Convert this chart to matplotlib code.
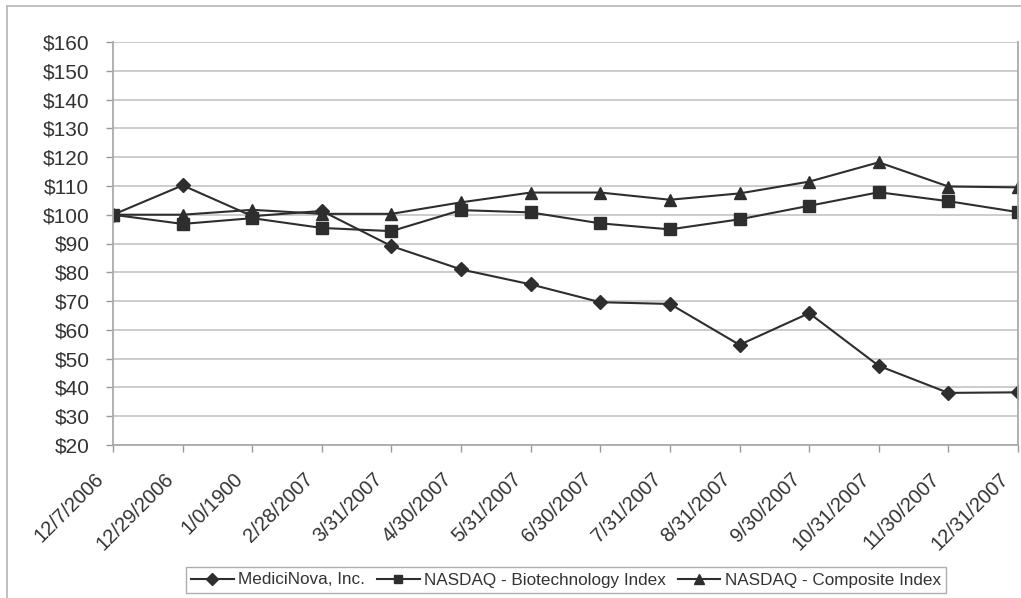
import numpy as np
import matplotlib.pyplot as plt
from matplotlib.lines import Line2D
from matplotlib.transforms import ScaledTranslation

plt.rcParams['font.family'] = ['Liberation Sans', 'DejaVu Sans']

dates = ['12/7/2006', '12/29/2006', '1/0/1900', '2/28/2007', '3/31/2007',
         '4/30/2007', '5/31/2007', '6/30/2007', '7/31/2007', '8/31/2007',
         '9/30/2007', '10/31/2007', '11/30/2007', '12/31/2007']
medicinova = [100, 110.2, 99.5, 101.3, 89.1, 81.0, 75.8, 69.6, 69.0, 54.8,
              65.8, 47.5, 38.1, 38.3]
biotech = [100, 96.8, 98.8, 95.4, 94.3, 101.6, 100.8, 97.0, 94.9, 98.4,
           103.1, 107.8, 104.7, 100.9]
composite = [100, 100.0, 101.7, 100.3, 100.3, 104.3, 107.7, 107.7, 105.2, 107.4,
             111.5, 118.2, 109.8, 109.5]
yticks = list(range(20, 161, 10))

line_col = '#2e2e2e'
grid_col = '#c8c8c8'
text_col = '#333333'

fig = plt.figure(figsize=(10.21, 5.98), dpi=100)
ax = fig.add_axes([113/1021, 1 - 445/598, (1018 - 113)/1021, (445 - 42)/598])

x = np.arange(len(dates))
ax.plot(x, medicinova, color=line_col, lw=1.5, marker='D', ms=7.5,
        label='MediciNova, Inc.')
ax.plot(x, biotech, color=line_col, lw=1.5, marker='s', ms=8,
        label='NASDAQ - Biotechnology Index')
ax.plot(x, composite, color=line_col, lw=1.5, marker='^', ms=9,
        label='NASDAQ - Composite Index')

ax.set_xlim(0, len(dates) - 1)
ax.set_ylim(20, 160)
ax.set_yticks(yticks)
ax.set_yticklabels(['$%d' % v for v in yticks], fontsize=15, color=text_col)
ax.set_xticks(x)
ax.set_xticklabels(dates, rotation=45, ha='right', va='center',
                   rotation_mode='anchor', fontsize=14.5, color=text_col)
ax.tick_params(axis='both', length=5, width=1, color='#999999')
ax.tick_params(axis='y', pad=12)
ax.tick_params(axis='x', pad=0)
shift = ScaledTranslation(-12/100, -24/100, fig.dpi_scale_trans)
for lbl in ax.get_xticklabels():
    lbl.set_transform(lbl.get_transform() + shift)
ax.grid(axis='y', color=grid_col, lw=1.3)
ax.set_axisbelow(True)
for s in ['left', 'bottom', 'right']:
    ax.spines[s].set_color('#aaaaaa')
    ax.spines[s].set_linewidth(1.3)
ax.spines['top'].set_visible(False)

leg = fig.legend(loc='center', bbox_to_anchor=(566/1021, 1 - 580/598), ncol=3,
                 frameon=True, fancybox=False, fontsize=12.3, handlelength=2.5,
                 handletextpad=0.25, columnspacing=0.7, borderpad=0.3,
                 borderaxespad=0, markerscale=0.8)
leg.get_frame().set_edgecolor('#999999')
leg.get_frame().set_linewidth(1.0)
for t in leg.get_texts():
    t.set_color(text_col)

# outer chart border
fig.add_artist(Line2D([7/1021, 1.0], [1 - 6/598, 1 - 6/598], color='#bbbbbb', lw=1.3))
fig.add_artist(Line2D([7/1021, 7/1021], [0, 1 - 6/598], color='#bbbbbb', lw=1.3))

fig.savefig('out.png', dpi=100)
